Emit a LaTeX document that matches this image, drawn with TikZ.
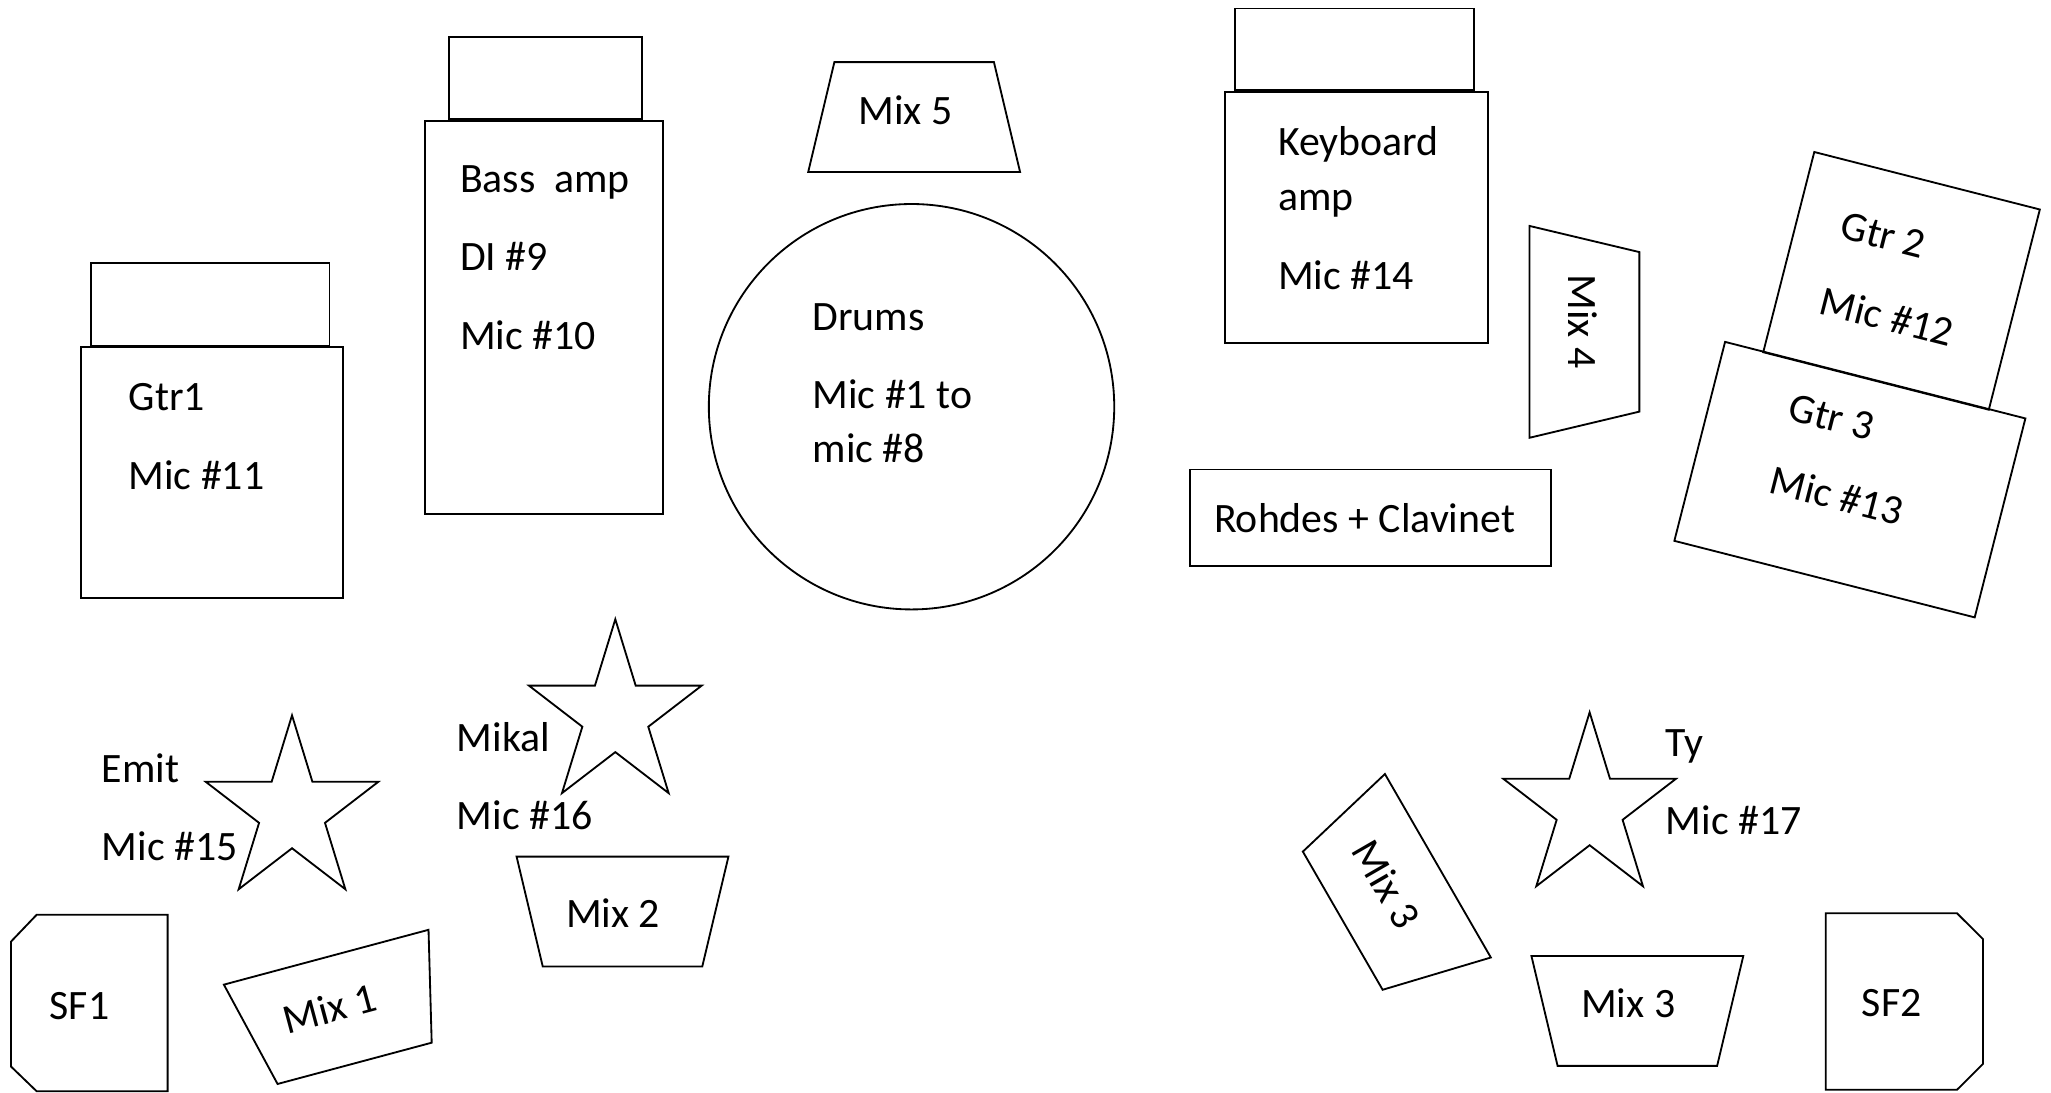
\documentclass[tikz,border=0pt]{standalone}
\usepackage{fontspec}
\setmainfont{Carlito}
\newcommand\stagestar[3]{%
  \draw[shp, shift={(#2,#3)}] (-90:69.4 and 73.5) -- (-126:26.5 and 28.1)
    -- (-162:69.4 and 73.5) -- (-198:26.5 and 28.1)
    -- (-234:69.4 and 73.5) -- (-270:26.5 and 28.1)
    -- (-306:69.4 and 73.5) -- (-342:26.5 and 28.1)
    -- (-378:69.4 and 73.5) -- (-414:26.5 and 28.1) -- cycle;
  \coordinate (#1) at (#2,#3);}
\newcommand\mixtrap[4]{%
  \draw[shp, shift={(#2,#3)}, rotate=#4] (-81,-42) -- (81,-42) -- (61,42) -- (-61,42) -- cycle;
  \coordinate (#1) at (#2,#3);}
\begin{document}
\begin{tikzpicture}[x=0.02cm, y=-0.02cm,
  shp/.style={draw=black, line width=0.8pt, line join=miter},
  lbl/.style={inner sep=0pt, anchor=base west, font=\fontsize{18.2pt}{21pt}\selectfont},
  clbl/.style={inner sep=0pt, anchor=center, font=\fontsize{18.2pt}{21pt}\selectfont}]
\useasboundingbox[fill=white] (0,0) rectangle (1568.3,835);

% Gtr1 amp
\draw[shp] (69.5,201) rectangle (252,264.2);
\draw[shp] (62,265.5) rectangle (262.5,457);
\node[lbl] (gtr1a) at (98,314) {Gtr1};
\node[lbl] (gtr1b) at (98,374) {Mic \#11};

% Bass amp
\draw[shp] (343.4,28) rectangle (490.6,91);
\draw[shp] (324.7,92.3) rectangle (507,393);
\node[lbl] (bassa) at (351.5,147) {Bass\ \ amp};
\node[lbl] (bassb) at (351.5,207) {DI \#9};
\node[lbl] (bassc) at (351.5,267) {Mic \#10};

% Mix 5
\mixtrap{mix5}{699}{89.5}{180}
\node[lbl] (mix5t) at (656,95) {Mix 5};

% Drums
\draw[shp] (697,311) circle (155);
\node[lbl] (drumsa) at (621,253) {Drums};
\node[lbl] (drumsb) at (621,312) {Mic \#1 to};
\node[lbl] (drumsc) at (621,354) {mic \#8};

% Keyboard amp
\draw[shp] (944.5,6.5) rectangle (1127,69);
\draw[shp] (937,70.3) rectangle (1138,262);
\node[lbl] (keya) at (977,119) {Keyboard};
\node[lbl] (keyb) at (977,161) {amp};
\node[lbl] (keyc) at (977,221) {Mic \#14};

% Rohdes + Clavinet
\draw[shp] (910,359) rectangle (1186,433);
\node[lbl] (rhodes) at (928,407) {Rohdes + Clavinet};

% Mix 4
\mixtrap{mix4}{1211.5}{253.75}{90}
\node[clbl, rotate=-90] (mix4t) at (1210,246) {Mix 4};

% Gtr 2 and Gtr 3
\draw[shp, shift={(1454,214.75)}, rotate=-14.3] (-89,-79) rectangle (89,79);
\draw[shp, shift={(1414.5,366.75)}, rotate=-14.3] (-118.5,-78.5) rectangle (118.5,78.5);
\node[clbl, rotate=-14.3] (gtr2a) at (1440,180) {Gtr 2};
\node[clbl, rotate=-14.3] (gtr2b) at (1443,242) {Mic \#12};
\node[clbl, rotate=-14.3] (gtr3a) at (1400.5,319) {Gtr 3};
\node[clbl, rotate=-14.3] (gtr3b) at (1404.5,379) {Mic \#13};

% Emit
\stagestar{emit}{223.3}{620.5}
\node[lbl] (emita) at (77.5,598) {Emit};
\node[lbl] (emitb) at (77.5,658) {Mic \#15};

% Mikal
\stagestar{mikal}{470.5}{547}
\node[lbl] (mikala) at (349,575) {Mikal};
\node[lbl] (mikalb) at (349,634.5) {Mic \#16};

% Ty
\stagestar{ty}{1215.5}{618.2}
\node[lbl] (tya) at (1273.5,578.5) {Ty};
\node[lbl] (tyb) at (1273.5,638) {Mic \#17};

% Mix 2
\mixtrap{mix2}{476}{697}{0}
\node[lbl] (mix2t) at (432.5,709) {Mix 2};

% Mix 1
\mixtrap{mix1}{260.3}{772.5}{15}
\node[clbl, rotate=15] (mix1t) at (252,771) {Mix 1};

% Mix 3 (rotated)
\mixtrap{mix3a}{1063.1}{683}{-60}
\node[clbl, rotate=-60] (mix3at) at (1060.2,675.9) {Mix 3};

% Mix 3 (bottom)
\mixtrap{mix3b}{1252}{773}{0}
\node[lbl] (mix3bt) at (1208.7,778) {Mix 3};

% SF1
\draw[shp] (8.4,720) -- (28,699.5) -- (128.2,699.5) -- (128.2,834.4) -- (28,834.4) -- (8.4,815.5) -- cycle;
\node[lbl] (sf1t) at (37.7,779.3) {SF1};

% SF2
\draw[shp] (1396,698.3) -- (1496.4,698.3) -- (1516.3,718.1) -- (1516.3,813.5) -- (1496.4,833.3) -- (1396,833.3) -- cycle;
\node[lbl] (sf2t) at (1423.3,777.3) {SF2};
\end{tikzpicture}
\end{document}
